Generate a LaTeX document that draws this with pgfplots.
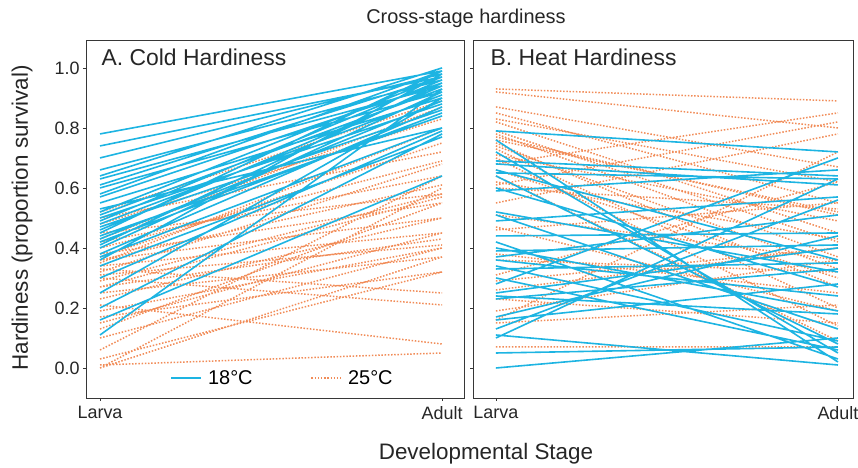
\documentclass[border=0pt]{standalone}
\usepackage{fontspec}
\setmainfont{Liberation Sans}
\usepackage{pgfplots}
\pgfplotsset{compat=1.18}
\definecolor{c18}{RGB}{29,180,226}
\definecolor{c25}{RGB}{241,140,88}
\definecolor{framec}{RGB}{55,55,55}
\pgfplotsset{
  s18/.style={c18, line width=1.6bp},
  s25/.style={c25, line width=1.5bp, dash pattern=on 1.5bp off 1.7bp},
  panel/.style={
    scale only axis, height=358bp,
    ymin=-0.1, ymax=1.093,
    xtick={0,1}, xticklabels={Larva,Adult},
    ytick={0,0.2,0.4,0.6,0.8,1.0},
    xtick pos=bottom, ytick pos=left,
    tick align=outside, major tick length=3bp,
    axis line style={framec, line width=0.8bp},
    tick style={framec, line width=0.8bp},
    unbounded coords=jump,
    /pgf/number format/assume math mode=true,
    tick label style={font=\fontsize{18}{20}\selectfont, text=black!85},
    yticklabel style={/pgf/number format/fixed, /pgf/number format/fixed zerofill, /pgf/number format/precision=1},
    xticklabel style={yshift=-2bp},
    clip=true,
  },
}
\begin{document}
\begin{tikzpicture}
\path[use as bounding box] (0,0) rectangle (858bp,468bp);
% ---------------- Panel A ----------------
\begin{axis}[panel, at={(86bp,70bp)}, anchor=south west, width=378bp,
  xmin=-0.041, xmax=1.064,
  legend style={at={(0.52,0.056)}, anchor=center, draw=none, fill=none,
    legend columns=2, font=\fontsize{20}{22}\selectfont,
    /tikz/every even column/.append style={column sep=56bp},
    /tikz/every odd column/.append style={column sep=4bp}},
  legend image code/.code={\draw[#1] (0bp,0bp) -- (30bp,0bp);}]
\addlegendimage{s18}\addlegendentry{18°C}
\addlegendimage{s25}\addlegendentry{25°C}
\addplot[s25, forget plot] coordinates {
(0,0.52)(1,0.89) (0,nan)
(0,0.50)(1,0.72) (0,nan)
(0,0.48)(1,0.83) (0,nan)
(0,0.45)(1,0.58) (0,nan)
(0,0.43)(1,0.87) (0,nan)
(0,0.42)(1,0.64) (0,nan)
(0,0.40)(1,0.69) (0,nan)
(0,0.38)(1,0.55) (0,nan)
(0,0.37)(1,0.75) (0,nan)
(0,0.36)(1,0.50) (0,nan)
(0,0.36)(1,0.61) (0,nan)
(0,0.35)(1,0.80) (0,nan)
(0,0.34)(1,0.45) (0,nan)
(0,0.33)(1,0.25) (0,nan)
(0,0.32)(1,0.68) (0,nan)
(0,0.31)(1,0.41) (0,nan)
(0,0.30)(1,0.21) (0,nan)
(0,0.29)(1,0.58) (0,nan)
(0,0.27)(1,0.43) (0,nan)
(0,0.27)(1,0.57) (0,nan)
(0,0.25)(1,0.37) (0,nan)
(0,0.23)(1,0.50) (0,nan)
(0,0.21)(1,0.08) (0,nan)
(0,0.19)(1,0.40) (0,nan)
(0,0.17)(1,0.32) (0,nan)
(0,0.15)(1,0.45) (0,nan)
(0,0.13)(1,0.55) (0,nan)
(0,0.10)(1,0.40) (0,nan)
(0,0.06)(1,0.64) (0,nan)
(0,0.03)(1,0.32) (0,nan)
(0,0.01)(1,0.05) (0,nan)
(0,0.00)(1,0.60) (0,nan)
(0,0.00)(1,0.37)
};
\addplot[s18, forget plot] coordinates {
(0,0.78)(1,0.99) (0,nan)
(0,0.74)(1,0.97) (0,nan)
(0,0.70)(1,0.98) (0,nan)
(0,0.66)(1,0.96) (0,nan)
(0,0.64)(1,1.00) (0,nan)
(0,0.63)(1,0.94) (0,nan)
(0,0.61)(1,0.97) (0,nan)
(0,0.60)(1,0.92) (0,nan)
(0,0.58)(1,0.99) (0,nan)
(0,0.57)(1,0.95) (0,nan)
(0,0.55)(1,0.90) (0,nan)
(0,0.53)(1,0.80) (0,nan)
(0,0.52)(1,0.97) (0,nan)
(0,0.51)(1,0.93) (0,nan)
(0,0.50)(1,0.88) (0,nan)
(0,0.49)(1,0.96) (0,nan)
(0,0.48)(1,0.91) (0,nan)
(0,0.47)(1,0.86) (0,nan)
(0,0.46)(1,0.94) (0,nan)
(0,0.45)(1,0.99) (0,nan)
(0,0.44)(1,0.84) (0,nan)
(0,0.43)(1,0.89) (0,nan)
(0,0.42)(1,0.85) (0,nan)
(0,0.41)(1,0.95) (0,nan)
(0,0.40)(1,0.92) (0,nan)
(0,0.38)(1,0.87) (0,nan)
(0,0.37)(1,0.80) (0,nan)
(0,0.36)(1,0.98) (0,nan)
(0,0.34)(1,0.77) (0,nan)
(0,0.30)(1,0.79) (0,nan)
(0,0.25)(1,0.90) (0,nan)
(0,0.20)(1,0.78) (0,nan)
(0,0.16)(1,0.64) (0,nan)
(0,0.11)(1,0.93)
};
\node[anchor=base west, font=\fontsize{23}{25}\selectfont, text=black!85] at (rel axis cs:0.032,0.930) {A. Cold Hardiness};
\end{axis}
% ---------------- Panel B ----------------
\begin{axis}[panel, at={(473bp,70bp)}, anchor=south west, width=380bp,
  xmin=-0.067, xmax=1.044, yticklabels={}]
\addplot[s25, forget plot] coordinates {
(0,0.93)(1,0.89) (0,nan)
(0,0.92)(1,0.80) (0,nan)
(0,0.87)(1,0.67) (0,nan)
(0,0.85)(1,0.55) (0,nan)
(0,0.83)(1,0.62) (0,nan)
(0,0.82)(1,0.45) (0,nan)
(0,0.79)(1,0.42) (0,nan)
(0,0.78)(1,0.37) (0,nan)
(0,0.77)(1,0.51) (0,nan)
(0,0.76)(1,0.52) (0,nan)
(0,0.75)(1,0.27) (0,nan)
(0,0.74)(1,0.33) (0,nan)
(0,0.73)(1,0.20) (0,nan)
(0,0.71)(1,0.49) (0,nan)
(0,0.70)(1,0.14) (0,nan)
(0,0.68)(1,0.85) (0,nan)
(0,0.66)(1,0.30) (0,nan)
(0,0.64)(1,0.09) (0,nan)
(0,0.62)(1,0.43) (0,nan)
(0,0.61)(1,0.82) (0,nan)
(0,0.60)(1,0.53) (0,nan)
(0,0.55)(1,0.78) (0,nan)
(0,0.51)(1,0.36) (0,nan)
(0,0.47)(1,0.19) (0,nan)
(0,0.46)(1,0.55) (0,nan)
(0,0.38)(1,0.25) (0,nan)
(0,0.36)(1,0.32) (0,nan)
(0,0.31)(1,0.62) (0,nan)
(0,0.29)(1,0.40) (0,nan)
(0,0.26)(1,0.40) (0,nan)
(0,0.23)(1,0.15) (0,nan)
(0,0.19)(1,0.36) (0,nan)
(0,0.16)(1,0.72) (0,nan)
(0,0.15)(1,0.21) (0,nan)
(0,0.07)(1,0.07)
};
\addplot[s18, forget plot] coordinates {
(0,0.79)(1,0.72) (0,nan)
(0,0.76)(1,0.02) (0,nan)
(0,0.72)(1,0.05) (0,nan)
(0,0.69)(1,0.64) (0,nan)
(0,0.68)(1,0.61) (0,nan)
(0,0.66)(1,0.36) (0,nan)
(0,0.65)(1,0.63) (0,nan)
(0,0.64)(1,0.08) (0,nan)
(0,0.60)(1,0.27) (0,nan)
(0,0.59)(1,0.66) (0,nan)
(0,0.52)(1,0.32) (0,nan)
(0,0.51)(1,0.13) (0,nan)
(0,0.49)(1,0.57) (0,nan)
(0,0.44)(1,0.45) (0,nan)
(0,0.42)(1,0.03) (0,nan)
(0,0.40)(1,0.19) (0,nan)
(0,0.39)(1,0.41) (0,nan)
(0,0.37)(1,0.51) (0,nan)
(0,0.36)(1,0.24) (0,nan)
(0,0.34)(1,0.09) (0,nan)
(0,0.33)(1,0.35) (0,nan)
(0,0.30)(1,0.06) (0,nan)
(0,0.28)(1,0.70) (0,nan)
(0,0.25)(1,0.40) (0,nan)
(0,0.24)(1,0.18) (0,nan)
(0,0.23)(1,0.33) (0,nan)
(0,0.17)(1,0.44) (0,nan)
(0,0.16)(1,0.28) (0,nan)
(0,0.13)(1,0.56) (0,nan)
(0,0.11)(1,0.01) (0,nan)
(0,0.10)(1,0.63) (0,nan)
(0,0.05)(1,0.07) (0,nan)
(0,0.00)(1,0.10)
};
\node[anchor=base west, font=\fontsize{23}{25}\selectfont, text=black!85] at (rel axis cs:0.037,0.930) {B. Heat Hardiness};
\end{axis}
% ---------------- shared texts ----------------
\node[font=\fontsize{20}{22}\selectfont, text=black!85] at (466bp,450bp) {Cross-stage hardiness};
\node[font=\fontsize{22.5}{24}\selectfont, text=black!85] at (486bp,14bp) {Developmental Stage};
\node[font=\fontsize{22.5}{24}\selectfont, text=black!85, rotate=90] at (22bp,250bp) {Hardiness (proportion survival)};
\end{tikzpicture}
\end{document}
